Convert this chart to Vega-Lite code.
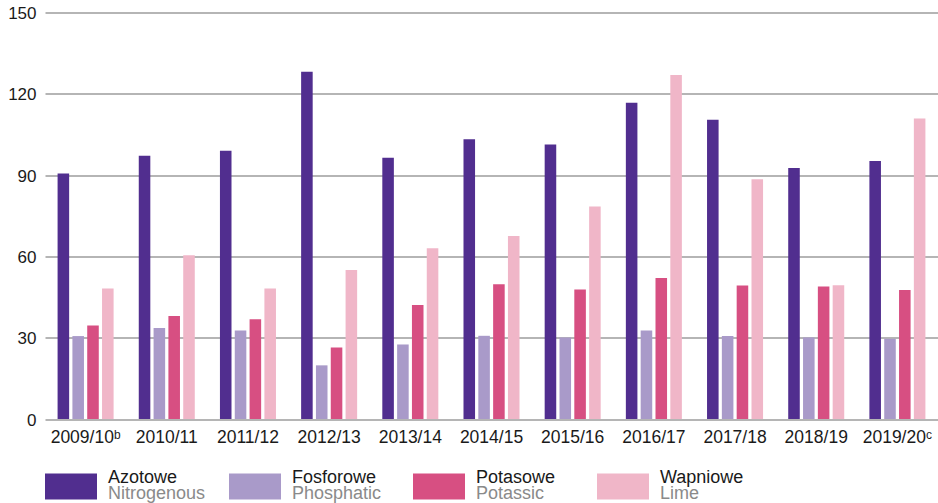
{
  "$schema": "https://vega.github.io/schema/vega-lite/v6.json",
  "width": 893,
  "height": 406.5,
  "autosize": {"type": "none"},
  "padding": {"left": 45, "top": 12.5, "right": 0, "bottom": 84},
  "background": "white",
  "config": {"view": {"stroke": null}, "font": "Liberation Sans"},
  "data": {
    "values": [
      {"season": "2009/10ᵇ", "pl": "Azotowe", "en": "Nitrogenous", "value": 90.6},
      {"season": "2009/10ᵇ", "pl": "Fosforowe", "en": "Phosphatic", "value": 30.6},
      {"season": "2009/10ᵇ", "pl": "Potasowe", "en": "Potassic", "value": 34.5},
      {"season": "2009/10ᵇ", "pl": "Wapniowe", "en": "Lime", "value": 48.2},
      {"season": "2010/11", "pl": "Azotowe", "en": "Nitrogenous", "value": 97.1},
      {"season": "2010/11", "pl": "Fosforowe", "en": "Phosphatic", "value": 33.6},
      {"season": "2010/11", "pl": "Potasowe", "en": "Potassic", "value": 38.0},
      {"season": "2010/11", "pl": "Wapniowe", "en": "Lime", "value": 60.4},
      {"season": "2011/12", "pl": "Azotowe", "en": "Nitrogenous", "value": 99.0},
      {"season": "2011/12", "pl": "Fosforowe", "en": "Phosphatic", "value": 32.7},
      {"season": "2011/12", "pl": "Potasowe", "en": "Potassic", "value": 36.8},
      {"season": "2011/12", "pl": "Wapniowe", "en": "Lime", "value": 48.2},
      {"season": "2012/13", "pl": "Azotowe", "en": "Nitrogenous", "value": 128.1},
      {"season": "2012/13", "pl": "Fosforowe", "en": "Phosphatic", "value": 19.8},
      {"season": "2012/13", "pl": "Potasowe", "en": "Potassic", "value": 26.4},
      {"season": "2012/13", "pl": "Wapniowe", "en": "Lime", "value": 55.0},
      {"season": "2013/14", "pl": "Azotowe", "en": "Nitrogenous", "value": 96.4},
      {"season": "2013/14", "pl": "Fosforowe", "en": "Phosphatic", "value": 27.5},
      {"season": "2013/14", "pl": "Potasowe", "en": "Potassic", "value": 42.1},
      {"season": "2013/14", "pl": "Wapniowe", "en": "Lime", "value": 63.0},
      {"season": "2014/15", "pl": "Azotowe", "en": "Nitrogenous", "value": 103.2},
      {"season": "2014/15", "pl": "Fosforowe", "en": "Phosphatic", "value": 30.7},
      {"season": "2014/15", "pl": "Potasowe", "en": "Potassic", "value": 49.7},
      {"season": "2014/15", "pl": "Wapniowe", "en": "Lime", "value": 67.5},
      {"season": "2015/16", "pl": "Azotowe", "en": "Nitrogenous", "value": 101.3},
      {"season": "2015/16", "pl": "Fosforowe", "en": "Phosphatic", "value": 30.1},
      {"season": "2015/16", "pl": "Potasowe", "en": "Potassic", "value": 47.8},
      {"season": "2015/16", "pl": "Wapniowe", "en": "Lime", "value": 78.4},
      {"season": "2016/17", "pl": "Azotowe", "en": "Nitrogenous", "value": 116.7},
      {"season": "2016/17", "pl": "Fosforowe", "en": "Phosphatic", "value": 32.7},
      {"season": "2016/17", "pl": "Potasowe", "en": "Potassic", "value": 52.0},
      {"season": "2016/17", "pl": "Wapniowe", "en": "Lime", "value": 126.9},
      {"season": "2017/18", "pl": "Azotowe", "en": "Nitrogenous", "value": 110.4},
      {"season": "2017/18", "pl": "Fosforowe", "en": "Phosphatic", "value": 30.6},
      {"season": "2017/18", "pl": "Potasowe", "en": "Potassic", "value": 49.3},
      {"season": "2017/18", "pl": "Wapniowe", "en": "Lime", "value": 88.5},
      {"season": "2018/19", "pl": "Azotowe", "en": "Nitrogenous", "value": 92.6},
      {"season": "2018/19", "pl": "Fosforowe", "en": "Phosphatic", "value": 30.1},
      {"season": "2018/19", "pl": "Potasowe", "en": "Potassic", "value": 48.9},
      {"season": "2018/19", "pl": "Wapniowe", "en": "Lime", "value": 49.4},
      {"season": "2019/20ᶜ", "pl": "Azotowe", "en": "Nitrogenous", "value": 95.2},
      {"season": "2019/20ᶜ", "pl": "Fosforowe", "en": "Phosphatic", "value": 29.6},
      {"season": "2019/20ᶜ", "pl": "Potasowe", "en": "Potassic", "value": 47.6},
      {"season": "2019/20ᶜ", "pl": "Wapniowe", "en": "Lime", "value": 110.9}
    ]
  },
  "mark": {"type": "bar", "strokeWidth": 0},
  "encoding": {
    "x": {
      "field": "season",
      "type": "nominal",
      "sort": null,
      "scale": {"paddingInner": 0.31, "paddingOuter": 0.155},
      "axis": {
        "title": null,
        "labelAngle": 0,
        "domain": false,
        "ticks": false,
        "tickSize": 0,
        "grid": false,
        "labelPadding": 9,
        "labelFontSize": 17.5,
        "labelFont": "Liberation Sans",
        "labelColor": "#1a1a1a"
      }
    },
    "xOffset": {
      "field": "pl",
      "type": "nominal",
      "sort": ["Azotowe", "Fosforowe", "Potasowe", "Wapniowe"],
      "scale": {"paddingInner": 0.22, "paddingOuter": 0}
    },
    "y": {
      "field": "value",
      "type": "quantitative",
      "scale": {"domain": [0, 150], "nice": false},
      "axis": {
        "title": null,
        "values": [0, 30, 60, 90, 120, 150],
        "grid": true,
        "gridColor": "#9d9d9d",
        "gridWidth": 1.5,
        "domain": false,
        "ticks": false,
        "tickSize": 0,
        "labelPadding": 9,
        "labelOffset": 1,
        "labelFontSize": 17,
        "labelFont": "Liberation Sans",
        "labelColor": "#1a1a1a"
      }
    },
    "color": {
      "field": "pl",
      "type": "nominal",
      "scale": {
        "domain": ["Azotowe", "Fosforowe", "Potasowe", "Wapniowe"],
        "range": ["#512E8F", "#A99AC9", "#D74F82", "#F0B6C8"]
      },
      "legend": {
        "title": null,
        "orient": "none",
        "legendX": 0,
        "legendY": 448,
        "direction": "horizontal",
        "columns": 4,
        "gridAlign": "all",
        "columnPadding": 36,
        "padding": 0,
        "symbolType": "M-1,-0.5H1V0.5H-1Z",
        "symbolSize": 2704,
        "symbolStrokeWidth": 0,
        "symbolOpacity": 1,
        "labelFont": "Liberation Sans",
        "labelFontSize": 18,
        "labelColor": "#1a1a1a",
        "labelOffset": 11,
        "labelBaseline": "bottom"
      }
    },
    "stroke": {
      "field": "en",
      "type": "nominal",
      "scale": {
        "domain": ["Nitrogenous", "Phosphatic", "Potassic", "Lime"],
        "range": ["#512E8F", "#A99AC9", "#D74F82", "#F0B6C8"]
      },
      "legend": {
        "title": null,
        "orient": "none",
        "legendX": 0,
        "legendY": 460.5,
        "direction": "horizontal",
        "columns": 4,
        "gridAlign": "all",
        "columnPadding": 23,
        "padding": 0,
        "symbolType": "M-1,-0.5H1V0.5H-1Z",
        "symbolSize": 2704,
        "symbolStrokeWidth": 0,
        "symbolOpacity": 0,
        "labelFont": "Liberation Sans",
        "labelFontSize": 18,
        "labelColor": "#8a8a8a",
        "labelOffset": 11,
        "labelBaseline": "alphabetic"
      }
    }
  }
}
